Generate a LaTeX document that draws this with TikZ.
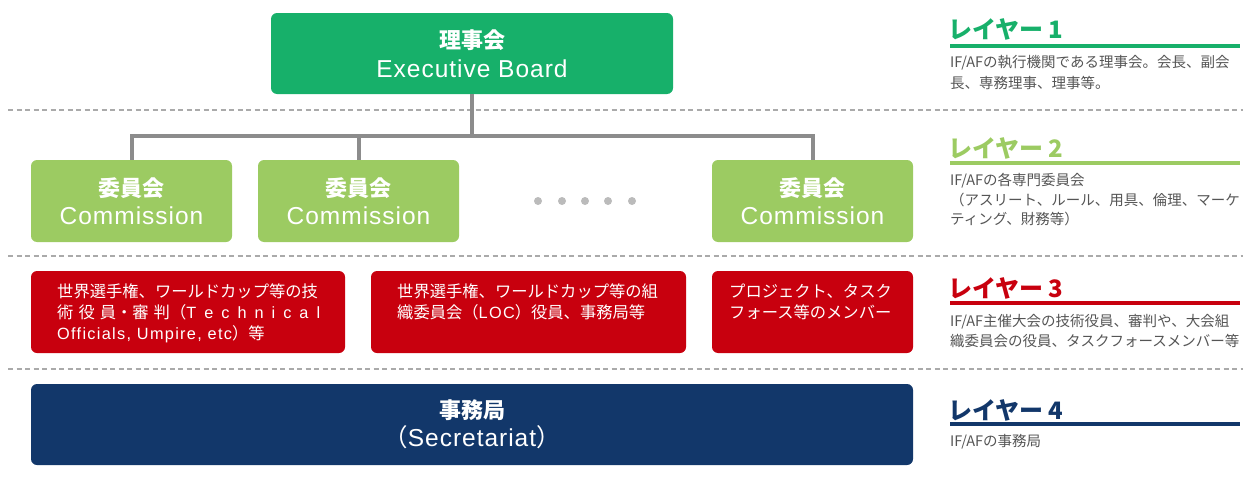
\documentclass[tikz,border=0pt]{standalone}
\usepackage{fontspec}
\setmainfont{Liberation Sans}
\newfontfamily\lat{Liberation Sans}[LetterSpace=4]
\newfontfamily\latr{Liberation Sans}[LetterSpace=8]
\newfontfamily\jp{Noto Sans CJK JP}
\definecolor{gTop}{HTML}{17B06A}
\definecolor{gLight}{HTML}{9CCB62}
\definecolor{rBox}{HTML}{C8000E}
\definecolor{nBox}{HTML}{12376A}
\definecolor{conn}{HTML}{8C8C8C}
\definecolor{dashc}{HTML}{AAAAAA}
\definecolor{desc}{HTML}{555555}
\definecolor{dotc}{HTML}{BBBBBB}
\tikzset{
  box/.style={rounded corners=6pt, inner sep=0pt, text=white, align=center, font=\fontsize{24.5}{28.5}\selectfont},
  redtext/.style={anchor=north west, inner sep=0pt, text=white, align=left, font=\jp\fontsize{16.3}{20.7}\selectfont},
  sep/.style={dashc, line width=1.5pt, dash pattern=on 5pt off 3.5pt},
  connector/.style={conn, line width=4pt},
  ltitle/.style={anchor=west, inner sep=0pt, font=\jp\bfseries\fontsize{24}{28}\selectfont},
  ldesc/.style={anchor=west, inner sep=0pt, text=desc, font=\jp\fontsize{14.5}{18}\selectfont},
  lline/.style={line width=4.5pt}
}
\newcommand{\jpt}[1]{{\jp\bfseries\fontsize{22}{28.5}\selectfont #1}}
\begin{document}
\begin{tikzpicture}[x=1pt,y=-1pt]
\useasboundingbox (0,0) rectangle (1243,479);
% separators
\draw[sep] (8,110) -- (1243,110);
\draw[sep] (8,256) -- (1243,256);
\draw[sep] (8,369) -- (1243,369);
% layer 1
\node[box, fill=gTop, minimum width=402pt, minimum height=81pt] (eb) at (472,53.5) {\jpt{理事会}\\{\lat Executive Board}};
% layer 2
\node[box, fill=gLight, minimum width=201pt, minimum height=82pt] (c1) at (131.5,201) {\jpt{委員会}\\{\lat Commission}};
\node[box, fill=gLight, minimum width=201pt, minimum height=82pt] (c2) at (358.5,201) {\jpt{委員会}\\{\lat Commission}};
\node[box, fill=gLight, minimum width=201pt, minimum height=82pt] (c3) at (812.5,201) {\jpt{委員会}\\{\lat Commission}};
\foreach \i/\x in {1/538,2/562,3/585,4/608,5/632}
  \fill[dotc] (\x,201) circle (4pt);
% connectors
\coordinate (bus) at (472,136);
\draw[connector] (eb.south) -- (bus);
\draw[connector] (c1.north) -- (c1.north |- bus) -- (c3.north |- bus) -- (c3.north);
\draw[connector] (c2.north) -- (c2.north |- bus);
% layer 3
\node[box, fill=rBox, minimum width=314pt, minimum height=82pt] (r1) at (188,312) {};
\node[box, fill=rBox, minimum width=315pt, minimum height=82pt] (r2) at (528.5,312) {};
\node[box, fill=rBox, minimum width=201pt, minimum height=82pt] (r3) at (812.5,312) {};
\node[redtext] (r1t) at (57,284) {世界選手権、ワールドカップ等の技\\\makebox[263pt][s]{術 役 員・審 判（{\latr T e c h n i c a l}}\\{\latr Officials, Umpire, etc}）等};
\node[redtext] (r2t) at (397,284) {世界選手権、ワールドカップ等の組\\織委員会（{\latr LOC}）役員、事務局等};
\node[redtext] (r3t) at (729,284) {プロジェクト、タスク\\フォース等のメンバー};
% layer 4
\node[box, fill=nBox, minimum width=882pt, minimum height=81pt] (sec) at (472,424.5) {\jpt{事務局}\\{\jp（}{\lat Secretariat}{\jp ）}};
% right column
\node[ltitle, text=gTop] (l1) at (948,29) {レイヤー 1};
\draw[lline, gTop] (950,46) -- (1240,46);
\node[ldesc] (l1a) at (950,63) {IF/AFの執行機関である理事会。会長、副会};
\node[ldesc] (l1b) at (950,83) {長、専務理事、理事等。};
\node[ltitle, text=gLight] (l2) at (948,148) {レイヤー 2};
\draw[lline, gLight] (950,163) -- (1240,163);
\node[ldesc] (l2a) at (950,181) {IF/AFの各専門委員会};
\node[ldesc] (l2b) at (950,200) {（アスリート、ルール、用具、倫理、マーケ};
\node[ldesc] (l2c) at (950,219) {ティング、財務等）};
\node[ltitle, text=rBox] (l3) at (948,288) {レイヤー 3};
\draw[lline, rBox] (950,303) -- (1240,303);
\node[ldesc] (l3a) at (950,322) {IF/AF主催大会の技術役員、審判や、大会組};
\node[ldesc] (l3b) at (950,341) {織委員会の役員、タスクフォースメンバー等};
\node[ltitle, text=nBox] (l4) at (948,410) {レイヤー 4};
\draw[lline, nBox] (950,424) -- (1240,424);
\node[ldesc] (l4a) at (950,442) {IF/AFの事務局};
\end{tikzpicture}
\end{document}
